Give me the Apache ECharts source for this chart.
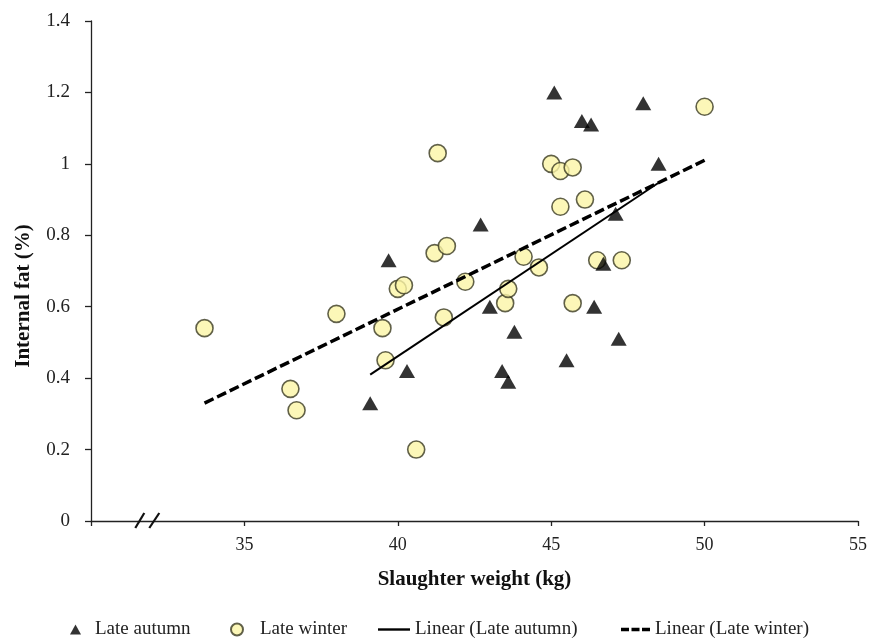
<!DOCTYPE html>
<html>
<head>
<meta charset="utf-8">
<script src="https://cdn.jsdelivr.net/npm/echarts@6/dist/echarts.min.js"></script>
<style>
  html, body { margin: 0; padding: 0; background: #fff; }
  #myChart { width: 872px; height: 642px; }
</style>
</head>
<body>
<div id="myChart"></div>
<script>
// Late autumn (triangles)
var autumnX = [39.1, 39.7, 40.3, 42.7, 43.0, 43.4, 43.6, 43.8, 45.1, 45.5, 46.0, 46.3, 46.4, 46.7, 47.1, 47.2, 48.0, 48.5]
var autumnY = [0.33, 0.73, 0.42, 0.83, 0.60, 0.42, 0.39, 0.53, 1.20, 0.45, 1.12, 1.11, 0.60, 0.72, 0.86, 0.51, 1.17, 1.00]
// Late winter (circles)
var winterX = [33.7, 36.5, 36.7, 38.0, 39.5, 39.6, 40.0, 40.2, 40.6, 41.2, 41.3, 41.6, 41.5, 42.2, 43.5, 43.6, 44.1, 44.6, 45.0, 45.3, 45.7, 45.3, 46.1, 45.7, 46.5, 47.3, 50.0]
var winterY = [0.54, 0.37, 0.31, 0.58, 0.54, 0.45, 0.65, 0.66, 0.20, 0.75, 1.03, 0.77, 0.57, 0.67, 0.61, 0.65, 0.74, 0.71, 1.00, 0.98, 0.99, 0.88, 0.90, 0.61, 0.73, 0.73, 1.16]
// trend line end points
var autumnTrendX = [39.1, 48.55]
var autumnTrendY = [0.41, 0.95]
var winterTrendX = [33.7, 50.0]
var winterTrendY = [0.33, 1.01]

var seriesNames = ['Late autumn', 'Late winter', 'Linear (Late autumn)', 'Linear (Late winter)']

function zip(xs, ys) {
  return xs.map(function(x, i) { return [x, ys[i]] })
}

var font = '"Liberation Serif", "Times New Roman", serif'

// one legend per item so each sits where the original puts it
function legendAt(item, left, w, h, gap) {
  return {
    data: [item],
    left: left,
    top: 615,
    itemWidth: w,
    itemHeight: h,
    selectedMode: false,
    textStyle: { fontFamily: font, fontSize: 19, color: '#222', padding: [0, 0, 0, gap] }
  }
}

var solidIcon = 'path://M0,0h32v2.4h-32z'
var dashIcon = 'path://M0,0h8v3.4h-8z M10.5,0h8v3.4h-8z M21,0h8v3.4h-8z'

var option = {
  animation: false,
  backgroundColor: '#fff',
  textStyle: { fontFamily: font },
  grid: { left: 91, right: 14, top: 21, bottom: 121 },
  legend: [
    legendAt({ name: seriesNames[0], icon: 'triangle', itemStyle: { color: '#000' } }, 65, 11, 10, 9),
    legendAt({ name: seriesNames[1], icon: 'circle' }, 225, 12, 12, 12),
    legendAt({ name: seriesNames[2], icon: solidIcon, itemStyle: { color: '#000' } }, 373, 32, 2.4, 0),
    legendAt({ name: seriesNames[3], icon: dashIcon, itemStyle: { color: '#000' } }, 616, 29, 3.4, 0)
  ],
  xAxis: {
    type: 'value',
    min: 30,
    max: 55,
    interval: 5,
    name: 'Slaughter weight (kg)',
    nameLocation: 'middle',
    nameGap: 48,
    nameTextStyle: { fontFamily: font, fontSize: 21, fontWeight: 'bold', color: '#111' },
    axisLine: { lineStyle: { color: '#222', width: 1.3 } },
    axisTick: { length: 5, lineStyle: { color: '#222', width: 1.3 } },
    axisLabel: {
      margin: 15,
      fontFamily: font,
      fontSize: 18,
      color: '#222',
      formatter: function(v) { return v === 30 ? '' : v }
    },
    splitLine: { show: false }
  },
  yAxis: {
    type: 'value',
    min: 0,
    max: 1.4,
    interval: 0.2,
    axisLine: { show: true, lineStyle: { color: '#222', width: 1.3 } },
    axisTick: { show: true, length: 6, lineStyle: { color: '#222', width: 1.3 } },
    axisLabel: { margin: 21, fontFamily: font, fontSize: 19, color: '#222' },
    splitLine: { show: false }
  },
  series: [
    {
      name: seriesNames[0],
      type: 'scatter',
      symbol: 'triangle',
      symbolSize: [16, 14],
      itemStyle: { color: '#000' },
      data: zip(autumnX, autumnY),
      z: 3
    },
    {
      name: seriesNames[1],
      type: 'scatter',
      symbol: 'circle',
      symbolSize: 17,
      itemStyle: { color: '#FBF5A6', borderColor: '#3a3a22', borderWidth: 1.6 },
      data: zip(winterX, winterY),
      z: 2
    },
    {
      name: seriesNames[2],
      type: 'line',
      symbol: 'none',
      lineStyle: { color: '#000', width: 2 },
      itemStyle: { color: '#000' },
      data: zip(autumnTrendX, autumnTrendY),
      z: 4
    },
    {
      name: seriesNames[3],
      type: 'line',
      symbol: 'none',
      lineStyle: { color: '#000', width: 3.5, type: [10, 4] },
      itemStyle: { color: '#000' },
      data: zip(winterTrendX, winterTrendY),
      z: 4
    }
  ]
}

var myChart = echarts.init(document.getElementById('myChart'))
myChart.setOption(option, true)

// axis break marks "//" near the left end of the x axis, y title placed a bit low like the original
var p = myChart.convertToPixel({ gridIndex: 0 }, [31.9, 0])
var slash = { stroke: '#111', lineWidth: 2.2 }
myChart.setOption({
  graphic: [
    { type: 'line', shape: { x1: p[0] - 14, y1: p[1] + 7, x2: p[0] - 5, y2: p[1] - 8 }, style: slash, z: 10 },
    { type: 'line', shape: { x1: p[0], y1: p[1] + 7, x2: p[0] + 10, y2: p[1] - 8 }, style: slash, z: 10 },
    {
      type: 'text',
      x: 24,
      y: 296,
      rotation: Math.PI / 2,
      style: {
        text: 'Internal fat (%)',
        font: 'bold 21px ' + font,
        fill: '#111',
        align: 'center',
        verticalAlign: 'middle'
      }
    }
  ]
})
</script>
</body>
</html>
